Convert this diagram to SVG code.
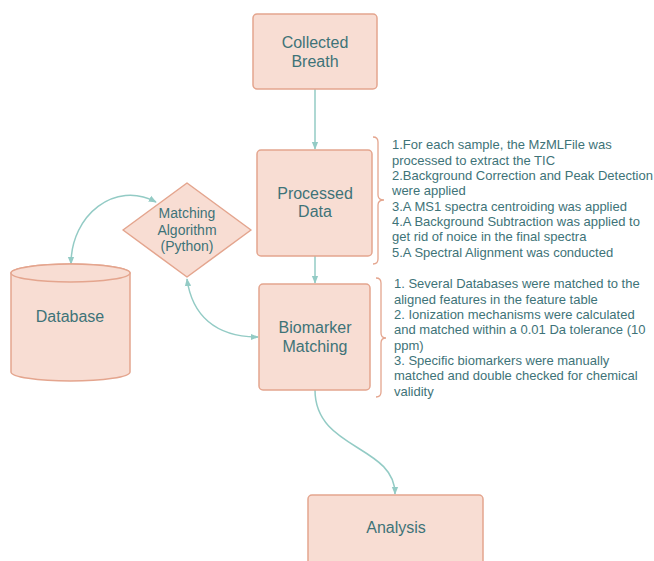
<svg xmlns="http://www.w3.org/2000/svg" width="654" height="561" viewBox="0 0 654 561">
<style>
.node{fill:#F8DDD3;stroke:#E4A58E;stroke-width:1.5}
.lbl{font-family:"Liberation Sans",Arial,sans-serif;font-size:16px;fill:#3E7378;text-anchor:middle}
.small{font-size:14px}
.note{font-family:"Liberation Sans",Arial,sans-serif;font-size:13px;fill:#3E7378}
.conn{fill:none;stroke:#93CBC5;stroke-width:1.5}
.brace{fill:none;stroke:#E4A58E;stroke-width:1.3}
</style>
<defs>
<marker id="ah" viewBox="0 0 10 10" refX="9" refY="5" markerWidth="8" markerHeight="8" orient="auto-start-reverse" markerUnits="userSpaceOnUse">
<path d="M0,1 L10,5 L0,9 Z" fill="#93CBC5"/>
</marker>
</defs>
<g id="connectors">
<path class="conn" d="M315,89 L315,149" marker-end="url(#ah)"/>
<path class="conn" d="M315,256 L315,283" marker-end="url(#ah)"/>
<path class="conn" d="M315,390 C315,450 395,445 395,494" marker-end="url(#ah)"/>
<path class="conn" d="M71,264 C71,215 115,180 156,202" marker-start="url(#ah)" marker-end="url(#ah)"/>
<path class="conn" d="M187,279 C192,315 215,337 258,337" marker-start="url(#ah)" marker-end="url(#ah)"/>
</g>
<g id="collected-breath">
<rect class="node" x="253" y="14" width="124" height="75" rx="4"/>
<text class="lbl" x="315" y="48">Collected</text>
<text class="lbl" x="315" y="67">Breath</text>
</g>
<g id="processed-data">
<rect class="node" x="257" y="150" width="115" height="106" rx="4"/>
<text class="lbl" x="315" y="199">Processed</text>
<text class="lbl" x="315" y="217">Data</text>
</g>
<g id="biomarker-matching">
<rect class="node" x="259" y="284" width="111" height="106" rx="4"/>
<text class="lbl" x="315" y="333">Biomarker</text>
<text class="lbl" x="315" y="352">Matching</text>
</g>
<g id="analysis">
<rect class="node" x="308" y="495" width="175" height="80" rx="4"/>
<text class="lbl" x="396" y="533">Analysis</text>
</g>
<g id="matching-algorithm">
<path class="node" d="M187,183 L251,230 L187,277 L123,230 Z" stroke-linejoin="round"/>
<text class="lbl small" x="187" y="218">Matching</text>
<text class="lbl small" x="187" y="235">Algorithm</text>
<text class="lbl small" x="187" y="251">(Python)</text>
</g>
<g id="database">
<path class="node" d="M11,273 L11,372 A59.5,9 0 0 0 130,372 L130,273 A59.5,9 0 0 0 11,273 Z"/>
<ellipse class="node" cx="70.5" cy="273" rx="59.5" ry="9"/>
<text class="lbl" x="70" y="322">Database</text>
</g>
<g id="processing-notes">
<path class="brace" d="M373,137 Q378,137 378,142 L378,195 Q378,200 384,200 Q378,200 378,205 L378,259 Q378,264 373,264"/>
<text class="note" x="392" y="149">1.For each sample, the MzMLFile was</text>
<text class="note" x="392" y="164.5">processed to extract the TIC</text>
<text class="note" x="392" y="180">2.Background Correction and Peak Detection</text>
<text class="note" x="392" y="195">were applied</text>
<text class="note" x="392" y="210.5">3.A MS1 spectra centroiding was applied</text>
<text class="note" x="392" y="226">4.A Background Subtraction was applied to</text>
<text class="note" x="392" y="241">get rid of noice in the final spectra</text>
<text class="note" x="392" y="256.5">5.A Spectral Alignment was conducted</text>
</g>
<g id="matching-notes">
<path class="brace" d="M376,278 Q381,278 381,283 L381,333 Q381,338 386,338 Q381,338 381,343 L381,392 Q381,397 376,397"/>
<text class="note" x="394" y="288">1. Several Databases were matched to the</text>
<text class="note" x="394" y="303.5">aligned features in the feature table</text>
<text class="note" x="394" y="319">2. Ionization mechanisms were calculated</text>
<text class="note" x="394" y="334">and matched within a 0.01 Da tolerance (10</text>
<text class="note" x="394" y="349.5">ppm)</text>
<text class="note" x="394" y="365">3. Specific biomarkers were manually</text>
<text class="note" x="394" y="380">matched and double checked for chemical</text>
<text class="note" x="394" y="395.5">validity</text>
</g>
</svg>
